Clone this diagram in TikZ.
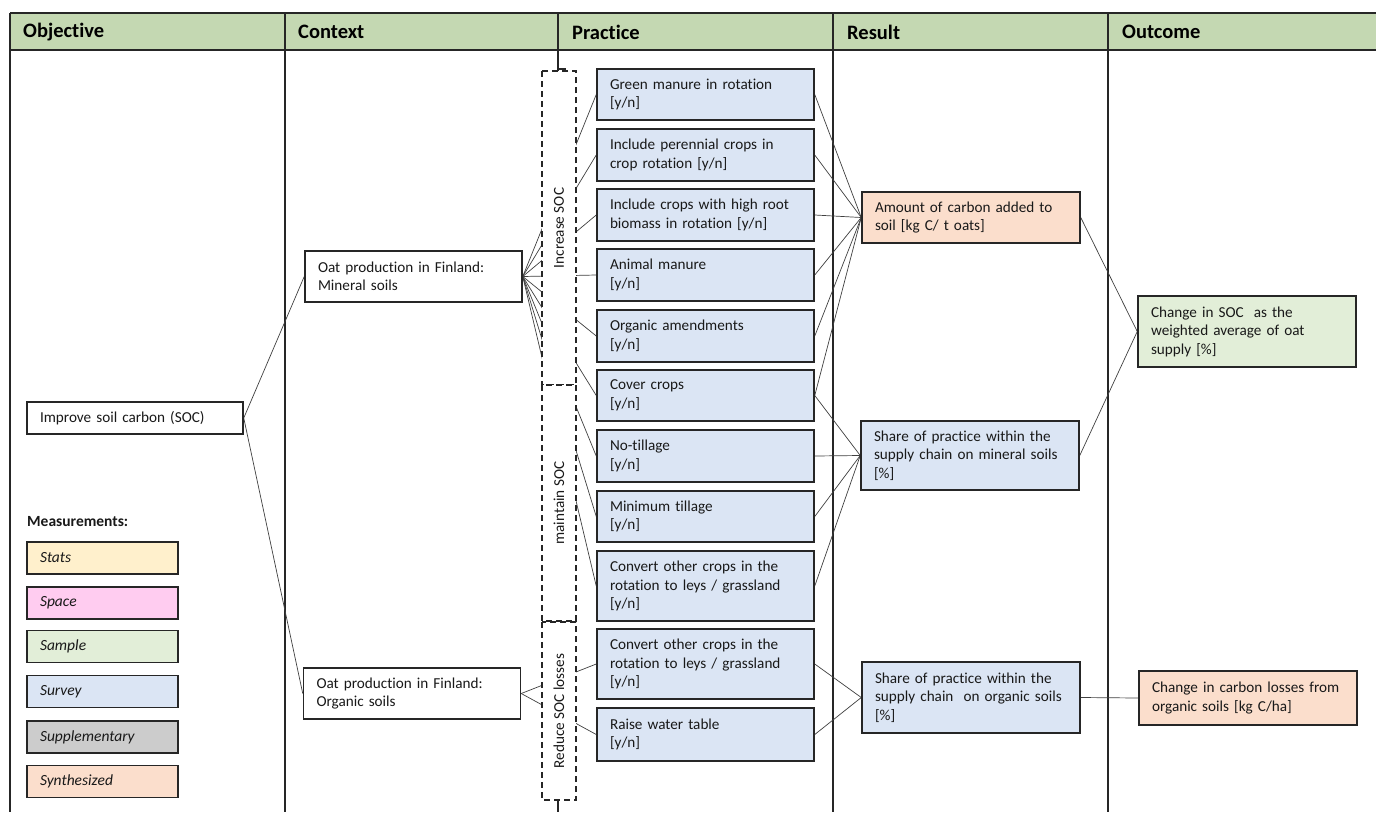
\documentclass[tikz,border=0pt]{standalone}
\usepackage{fontspec}
\setmainfont{Carlito}[Ligatures=NoCommon]
\definecolor{hdr}{RGB}{196,216,178}
\definecolor{svblue}{RGB}{219,229,244}
\definecolor{peach}{RGB}{251,222,204}
\definecolor{sgreen}{RGB}{226,238,216}
\definecolor{statsc}{RGB}{255,240,204}
\definecolor{spacec}{RGB}{255,204,240}
\definecolor{suppc}{RGB}{204,204,204}
\pgfdeclarelayer{bg}
\pgfdeclarelayer{lines}
\pgfsetlayers{bg,lines,main}
\begin{document}
\begin{tikzpicture}[x=1pt,y=-1pt,
  every node/.style={font=\fontsize{15.2}{18.5}\selectfont, text=black!90},
  box/.style={draw=black!85, line width=1.5pt, align=left, inner xsep=13pt, inner ysep=0pt},
  wb/.style={box, fill=white, text width=191pt, minimum width=217pt},
  pb/.style={box, fill=svblue, text width=191pt, minimum width=217pt},
  rb/.style={box, text width=192pt, minimum width=218pt},
  lg/.style={box, text width=125pt, minimum width=151pt, minimum height=32pt, font=\fontsize{15.5}{18}\selectfont\itshape},
  hd/.style={anchor=west, inner sep=0pt, font=\fontsize{20.5}{22}\selectfont\bfseries, text=black},
  colline/.style={draw=black!85, line width=1.5pt},
  conn/.style={draw=black!75, line width=0.7pt},
  dbox/.style={draw=black!85, line width=1.5pt, dash pattern=on 6pt off 4pt, fill=white, rotate=90, minimum height=34pt, inner sep=0pt}
]
\useasboundingbox (0,0) rectangle (1376,812);

% ---------- table frame ----------
\begin{pgfonlayer}{bg}
  \fill[white] (0,0) rectangle (1376,812);
  \fill[hdr] (10,13) rectangle (1376,50);
  \draw[colline] (10,13) -- (1376,13);
  \draw[colline] (10,50) -- (1376,50);
  \foreach \x in {10,285,558,833,1108} \draw[colline] (\x,13) -- (\x,812);
  \draw[colline] (557.3,69) -- (566,69);
\end{pgfonlayer}

\node[hd] (hobj) at (23,32) {Objective};
\node[hd] (hctx) at (298,32) {Context};
\node[hd] (hpra) at (572,32) {Practice};
\node[hd] (hres) at (847,32) {Result};
\node[hd] (hout) at (1122,32) {Outcome};

% ---------- objective ----------
\node[box, fill=white, text width=190pt, minimum width=216pt, minimum height=32pt] (imp) at (135,418) {Improve soil carbon (SOC)};

\node[anchor=west, inner sep=0pt, font=\fontsize{15.5}{18}\selectfont\bfseries] (meas) at (27,522) {Measurements:};
\node[lg, fill=statsc] (lstats) at (102.5,558) {Stats};
\node[lg, fill=spacec] (lspace) at (102.5,603) {Space};
\node[lg, fill=sgreen] (lsample) at (102.5,646.5) {Sample};
\node[lg, fill=svblue] (lsurvey) at (102.5,691.5) {Survey};
\node[lg, fill=suppc] (lsupp) at (102.5,737) {Supplementary};
\node[lg, fill=peach] (lsynth) at (102.5,781.5) {Synthesized};

% ---------- context ----------
\node[wb, minimum height=51pt] (min) at (413.5,276.5) {Oat production in Finland:\\Mineral soils};
\node[wb, minimum height=51pt] (org) at (412,693.5) {Oat production in Finland:\\Organic soils};

% ---------- grouping boxes ----------
\node[dbox, minimum width=314pt] (inc) at (559,228) {Increase SOC};
\node[dbox, minimum width=236pt] (mnt) at (559,503) {maintain SOC};
\node[dbox, minimum width=178pt] (red) at (559,711) {Reduce SOC losses};

% ---------- practice ----------
\node[pb, minimum height=51pt] (gm) at (705.5,94.5) {Green manure in rotation\\{[y/n]}};
\node[pb, minimum height=52pt] (per) at (705.5,155) {Include perennial crops in\\crop rotation [y/n]};
\node[pb, minimum height=52pt] (root) at (705.5,215) {Include crops with high root\\biomass in rotation [y/n]};
\node[pb, minimum height=52pt] (anim) at (705.5,275) {Animal manure\\{[y/n]}};
\node[pb, minimum height=52pt] (orgam) at (705.5,336) {Organic amendments\\{[y/n]}};
\node[pb, minimum height=51pt] (cover) at (705.5,395.5) {Cover crops\\{[y/n]}};
\node[pb, minimum height=52pt] (notill) at (705.5,456) {No-tillage\\{[y/n]}};
\node[pb, minimum height=51pt] (mintill) at (705.5,516.5) {Minimum tillage\\{[y/n]}};
\node[pb, minimum height=70pt] (conv) at (705.5,586) {Convert other crops in the\\rotation to leys / grassland\\{[y/n]}};
\node[pb, minimum height=70pt] (convo) at (705.5,664) {Convert other crops in the\\rotation to leys / grassland\\{[y/n]}};
\node[pb, minimum height=53pt] (water) at (705.5,734.5) {Raise water table\\{[y/n]}};

% ---------- result ----------
\node[rb, fill=peach, minimum height=51pt] (amount) at (971,217.5) {Amount of carbon added to\\soil [kg C/ t oats]};
\node[rb, fill=svblue, minimum height=69pt] (sharem) at (970,455.5) {Share of practice within the\\supply chain on mineral soils\\{[\%]}};
\node[rb, fill=svblue, minimum height=71pt] (shareo) at (971,697.5) {Share of practice within the\\supply chain\ \ on organic soils\\{[\%]}};

% ---------- outcome ----------
\node[rb, fill=sgreen, minimum height=71pt] (chsoc) at (1247,331.5) {Change in SOC\ \ as the\\weighted average of oat\\supply [\%]};
\node[rb, fill=peach, minimum height=54pt] (chloss) at (1248,698) {Change in carbon losses from\\organic soils [kg C/ha]};

% ---------- connectors ----------
\begin{pgfonlayer}{lines}
  \draw[conn] (imp.east) -- (min.west);
  \draw[conn] (imp.east) -- (org.west);
  \foreach \p in {gm,per,root,anim,orgam,cover,notill,mintill,conv}
    \draw[conn] (min.east) -- (\p.west);
  \foreach \p in {convo,water}
    \draw[conn] (org.east) -- (\p.west);
  \foreach \p in {gm,per,root,anim,orgam,cover}
    \draw[conn] (\p.east) -- (amount.west);
  \foreach \p in {cover,notill,mintill,conv}
    \draw[conn] (\p.east) -- (sharem.west);
  \foreach \p in {convo,water}
    \draw[conn] (\p.east) -- (shareo.west);
  \draw[conn] (amount.east) -- (chsoc.west);
  \draw[conn] (sharem.east) -- (chsoc.west);
  \draw[conn] (shareo.east) -- (chloss.west);
\end{pgfonlayer}
\end{tikzpicture}
\end{document}
